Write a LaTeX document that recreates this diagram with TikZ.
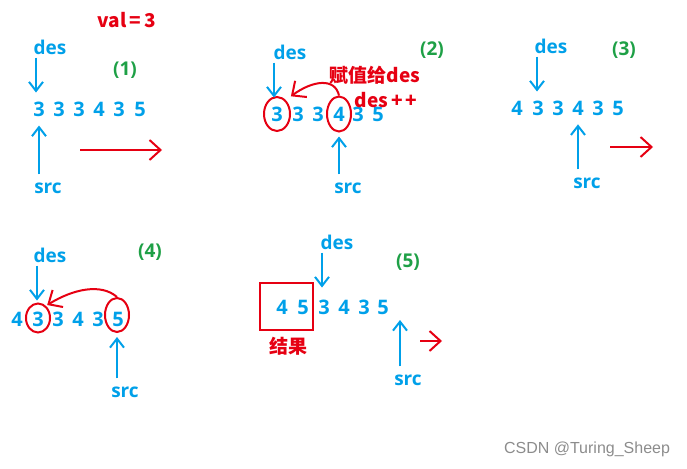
\documentclass[tikz,border=0pt]{standalone}
\usepackage{fontspec}
\setmainfont{Open Sans}
\newfontfamily\cjk{Noto Sans CJK SC}
\newfontfamily\wmfont{Liberation Sans}
\usetikzlibrary{shapes,arrows.meta}
\definecolor{ptrblue}{RGB}{0,160,233}
\definecolor{markred}{RGB}{230,0,18}
\definecolor{stepgreen}{RGB}{30,160,70}
\tikzstyle{num}=[text=ptrblue,font=\bfseries\fontsize{20}{20}\selectfont,inner sep=0pt]

\begin{document}
\begin{tikzpicture}[x=1pt,y=-1pt]
    \tikzstyle{tag}=[text=ptrblue,font=\bfseries\fontsize{19}{19}\selectfont,inner sep=0pt]
    \tikzstyle{stepno}=[text=stepgreen,font=\bfseries\fontsize{19}{19}\selectfont,inner sep=0pt]
    \tikzstyle{note}=[text=markred,font=\cjk\bfseries\fontsize{19}{19}\selectfont,inner sep=0pt]
    \tikzstyle{ptr}=[ptrblue,line width=2pt,-{Straight Barb[length=9pt,width=14pt]}]
    \tikzstyle{go}=[markred,line width=2pt,-{Straight Barb[length=11pt,width=20pt]}]
    \tikzstyle{ring}=[ellipse,draw=markred,line width=2pt,inner sep=0pt]
    \useasboundingbox (0,0) rectangle (687,468);
    % (1)
    \node[note] (V1) at (127,20) {val\,=\,3};
    \node[stepno] (N1) at (125,70) {(1)};
    \node[tag] (L1) at (50,47) {des};
    \node[tag] (S1) at (48,188) {src};
    \foreach \x/\v [count=\i] in {39/3,59/3,79/3,99/4,119/3,140/5}
        \node[num] (D1-\i) at (\x,109) {\v};
    \draw[ptr] (D1-1 |- L1.south) ++(-3,3) -- ++(0,35);
    \draw[ptr, shorten <=8pt, shorten >=9pt] (S1.north -| D1-1) -- (D1-1.south);
    \coordinate (A1) at (80,150);
    \coordinate (B1) at (162,150);
    \draw[go] (A1) -- (B1);
    % (2)
    \node[stepno] (N2) at (432,50) {(2)};
    \node[tag] (L2) at (290,52) {des};
    \node[tag] (S2) at (348,188) {src};
    \foreach \x/\v [count=\i] in {277/3,298/3,318/3,339/4,358/3,378/5}
        \node[num] (D2-\i) at (\x,114) {\v};
    \node[ring,minimum width=26pt,minimum height=34pt] (E2a) at (D2-1) {};
    \node[ring,minimum width=24pt,minimum height=35pt] (E2b) at (D2-4) {};
    \node[note] (T2) at (375,75) {赋值给des};
    \node[note] (U2) at (386,100) {des\,+\,+};
    \draw[ptr] (D2-1 |- L2.south) ++(-3,3) -- ++(0,35);
    \draw[ptr, shorten <=8pt, shorten >=4pt] (S2.north -| E2b) -- (E2b.south);
    \draw[go] (E2b.north) .. controls +(-4,-18) and +(22,-16) .. ([shift={(4,-5)}]E2a.north east);
    % (3)
    \node[stepno] (N3) at (624,50) {(3)};
    \node[tag] (L3) at (551,46) {des};
    \node[tag] (S3) at (587,183) {src};
    \foreach \x/\v [count=\i] in {517/4,538/3,558/3,578/4,598/3,618/5}
        \node[num] (D3-\i) at (\x,108) {\v};
    \draw[ptr] (D3-2 |- L3.south) ++(-1,3) -- ++(0,35);
    \draw[ptr, shorten <=8pt, shorten >=9pt] (S3.north -| D3-4) -- (D3-4.south);
    \coordinate (A3) at (610,147);
    \coordinate (B3) at (653,147);
    \draw[go] (A3) -- (B3);
    % (4)
    \node[stepno] (N4) at (150,252) {(4)};
    \node[tag] (L4) at (50,255) {des};
    \node[tag] (S4) at (125,392) {src};
    \foreach \x/\v [count=\i] in {17/4,38/3,58/3,78/4,98/3,118/5}
        \node[num] (D4-\i) at (\x,319) {\v};
    \node[ring,minimum width=24pt,minimum height=29pt] (E4a) at (38,318) {};
    \node[ring,minimum width=24pt,minimum height=34pt] (E4b) at (117,315) {};
    \draw[ptr] (D4-2 |- L4.south) ++(-1,3) -- ++(0,35);
    \draw[ptr, shorten <=8pt, shorten >=4pt] (S4.north -| E4b) -- (E4b.south);
    \draw[go] (E4b.north) .. controls +(-16,-14) and +(26,-16) .. ([shift={(0,-2)}]E4a.north east);
    % (5)
    \node[stepno] (N5) at (408,262) {(5)};
    \node[tag] (L5) at (337,242) {des};
    \node[tag] (S5) at (408,380) {src};
    \foreach \x/\v [count=\i] in {282/4,303/5,324/3,344/4,364/3,383/5}
        \node[num] (D5-\i) at (\x,307) {\v};
    \node[draw=markred,line width=2pt,minimum width=53pt,minimum height=47pt] (R5) at (286.5,306.5) {};
    \node[note] (K5) at (288,346) {结果};
    \draw[ptr] (D5-3 |- L5.south) ++(-2,3) -- ++(0,35);
    \coordinate (P5) at (400,320);
    \draw[ptr, shorten <=8pt] (S5.north -| P5) -- (P5);
    \coordinate (A5) at (420,341);
    \coordinate (B5) at (442,341);
    \draw[go] (A5) -- (B5);
    % watermark
    \node[text=black!45,font=\wmfont\fontsize{16}{16}\selectfont,inner sep=0pt] (W) at (587,449) {CSDN @Turing\_Sheep};
\end{tikzpicture}
\end{document}
